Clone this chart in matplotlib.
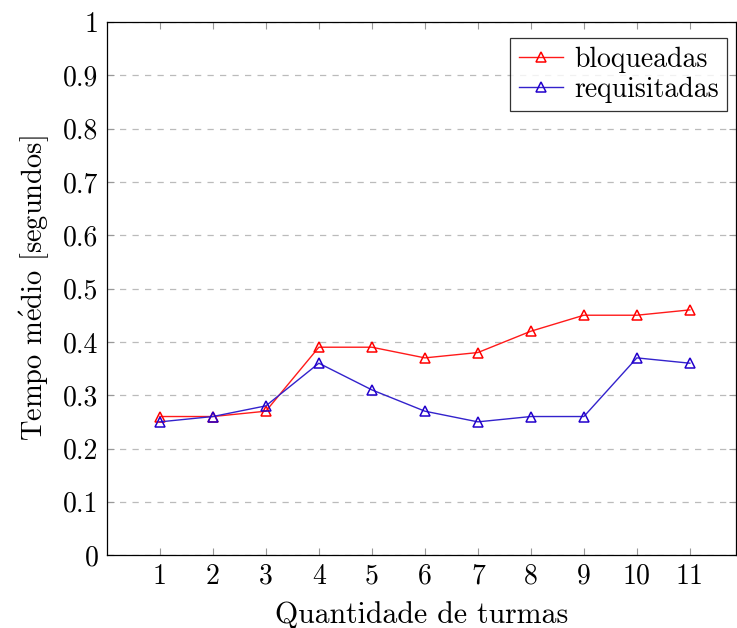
import matplotlib.pyplot as plt
import numpy as np

plt.rcParams['font.family'] = 'serif'
plt.rcParams['font.serif'] = ['cmr10', 'DejaVu Serif']
plt.rcParams['mathtext.fontset'] = 'cm'
plt.rcParams['axes.formatter.use_mathtext'] = True

turmas = [1, 2, 3, 4, 5, 6, 7, 8, 9, 10, 11]
bloqueadas = [0.26, 0.26, 0.27, 0.39, 0.39, 0.37, 0.38, 0.42, 0.45, 0.45, 0.46]
requisitadas = [0.25, 0.26, 0.28, 0.36, 0.31, 0.27, 0.25, 0.26, 0.26, 0.37, 0.36]
yticks = [0, 0.1, 0.2, 0.3, 0.4, 0.5, 0.6, 0.7, 0.8, 0.9, 1]
ytick_labels = ['0', '0.1', '0.2', '0.3', '0.4', '0.5', '0.6', '0.7', '0.8', '0.9', '1']

fig = plt.figure(figsize=(7.37, 6.28), dpi=100)
ax = fig.add_axes([0.145, 0.116, 0.8536, 0.849])

ax.plot(turmas, bloqueadas, color='#ff1a1a', lw=1.0, marker='^', ms=7,
        mfc='none', mec='#ff0000', mew=1.1, label='bloqueadas')
ax.plot(turmas, requisitadas, color='#3322cc', lw=1.0, marker='^', ms=7,
        mfc='none', mec='#2200cc', mew=1.1, label='requisitadas')

ax.set_xlim(0, 11.87)
ax.set_ylim(0, 1)
ax.set_xticks(turmas)
ax.set_xticklabels([str(t) for t in turmas])
ax.set_yticks(yticks)
ax.set_yticklabels(ytick_labels)
ax.yaxis.grid(True, linestyle=(0, (5, 5)), color='#bbbbbb', lw=0.9)
ax.set_axisbelow(True)
ax.tick_params(direction='in', top=True, right=True, length=5, width=0.8,
               color='#999999', labelsize=20, pad=6)
for s in ax.spines.values():
    s.set_linewidth(0.9)

ax.set_xlabel('Quantidade de turmas', fontsize=21.5, labelpad=8)
ax.set_ylabel(r'Tempo m$\mathrm{\acute{e}}$dio [segundos]', fontsize=20.5,
              labelpad=9)

leg = ax.legend(loc='upper right', fontsize=20, frameon=True, fancybox=False,
                edgecolor='black', handlelength=1.6, borderpad=0.3,
                labelspacing=0.15, handletextpad=0.4, borderaxespad=0,
                bbox_to_anchor=(0.986, 0.97))
leg.get_frame().set_linewidth(0.9)

fig.savefig('out.png', dpi=100)
